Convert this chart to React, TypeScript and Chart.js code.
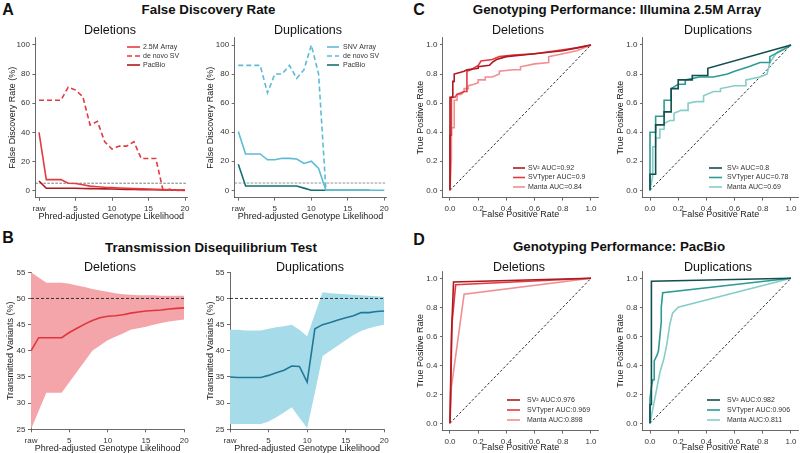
import React, { useEffect, useRef } from 'react';
import { Chart, registerables } from 'chart.js';

Chart.register(...registerables);

const FONT = "'Liberation Sans', Arial, Helvetica, sans-serif";
Chart.defaults.font.family = FONT;
Chart.defaults.color = '#333';

// ---------- shared axis data ----------
const gq = [0, 1, 2, 3, 4, 5, 6, 7, 8, 9, 10, 11, 12, 13, 14, 15, 16, 17, 18, 19, 20];
const gqTickValues = [0, 5, 10, 15, 20];
const gqTickLabels = ['raw', '5', '10', '15', '20'];
const fdrTicks = [0, 20, 40, 60, 80, 100];
const tdtTicks = [25, 30, 35, 40, 45, 50, 55];
const rocTicks = [0, 0.2, 0.4, 0.6, 0.8, 1.0];
const FDR_THRESHOLD = 5;
const TDT_EXPECTED = 50;

// ---------- A: False discovery rate ----------
const aDelArray = [40, 7.5, 7.5, 7.5, 5, 4.8, 4, 3, 2.6, 2.2, 2, 1.7, 1.5, 1.3, 1.1, 1, 0.8, 0.6, 0.5, 0.3, 0.2];
const aDelDenovo = [62, 62, 62, 62, 71, 69, 64.5, 45, 47.5, 33.5, 28.5, 30.5, 30.5, 33.5, 22, 22, 22, 0, 1, 0, 0.5];
const aDelPacbio = [6.5, 1.5, 1.5, 1.5, 1.5, 1.5, 1.4, 1.3, 1.2, 1.1, 1, 0.9, 0.8, 0.7, 0.6, 0.5, 0.5, 0.4, 0.3, 0.2, 0.1];

const aDupArray = [40.5, 25, 25, 25, 21, 21, 22, 22, 21.5, 18.5, 20, 15, 0, 0, 0, 0, 0, 0, 0, 0, 0];
const aDupDenovo = [86, 86, 86, 86, 67, 80, 80, 86, 77, 83, 100, 80, 0];
const aDupPacbio = [18, 3, 3, 3, 3, 3, 3, 3, 3, 1.5, 0, 0, 0, 0, 0, 0, 0, 0, 0];

// ---------- B: Transmission disequilibrium test ----------
const bDelMean = [40, 42.5, 42.5, 42.5, 42.5, 43.5, 44.3, 45.1, 45.8, 46.3, 46.6, 46.7, 46.9, 47.2, 47.4, 47.6, 47.7, 47.8, 48.0, 48.1, 48.2];
const bDelUpper = [55, 54, 53, 53, 53, 52.8, 52.5, 52.2, 51.8, 51.5, 51.3, 51, 50.8, 50.7, 50.6, 50.6, 50.6, 50.5, 50.5, 50.5, 50.5];
const bDelLower = [25, 28.5, 32, 32, 32, 34, 36, 38, 40, 41, 42, 42.7, 43.3, 44, 44.3, 44.6, 45, 45.3, 45.6, 45.8, 46];

const bDupMean = [35, 34.9, 34.9, 34.9, 34.9, 35.3, 35.8, 36.3, 37.1, 37, 34, 44.2, 45, 45.4, 45.9, 46.3, 46.7, 47.3, 47.3, 47.5, 47.6];
const bDupUpper = [44, 44, 43.9, 43.9, 43.9, 44.2, 44.5, 44.7, 45, 44, 42.8, 47, 51.2, 51, 50.9, 50.8, 50.7, 50.6, 50.5, 50.4, 50.3];
const bDupLower = [26, 26, 26, 26, 26, 26.5, 27.3, 28.2, 29.2, 27.2, 25.2, 32, 39, 40, 41, 42, 43, 43.8, 44.3, 44.7, 45];

// ---------- C: Genotyping performance, Illumina 2.5M array ----------
const cDelSv2Fpr = [0, 0, 0.02, 0.02, 0.03, 0.03, 0.07, 0.1, 0.12, 0.2, 0.2, 0.28, 0.3, 0.33, 0.4, 0.5, 0.6, 0.7, 0.8, 0.9, 1];
const cDelSv2Tpr = [0, 0.64, 0.64, 0.75, 0.75, 0.8, 0.81, 0.82, 0.83, 0.84, 0.85, 0.86, 0.88, 0.9, 0.92, 0.93, 0.94, 0.95, 0.96, 0.98, 1];
const cDelSvtFpr = [0, 0, 0.01, 0.01, 0.035, 0.05, 0.1, 0.12, 0.12, 0.15, 0.2, 0.22, 0.3, 0.35, 0.45, 0.6, 0.75, 0.9, 1];
const cDelSvtTpr = [0, 0.38, 0.38, 0.64, 0.64, 0.66, 0.68, 0.68, 0.82, 0.83, 0.86, 0.89, 0.9, 0.92, 0.93, 0.94, 0.96, 0.98, 1];
const cDelMantaFpr = [0, 0.01, 0.01, 0.03, 0.03, 0.05, 0.05, 0.08, 0.1, 0.1, 0.13, 0.13, 0.17, 0.2, 0.2, 0.25, 0.25, 0.3, 0.35, 0.35, 0.45, 0.5, 0.5, 0.6, 0.7, 0.7, 0.8, 0.9, 1];
const cDelMantaTpr = [0, 0.22, 0.43, 0.43, 0.62, 0.62, 0.66, 0.66, 0.68, 0.7, 0.7, 0.72, 0.73, 0.74, 0.76, 0.76, 0.78, 0.78, 0.8, 0.82, 0.83, 0.83, 0.85, 0.87, 0.88, 0.92, 0.94, 0.96, 1];

const cDupSv2Fpr = [0, 0, 0.04, 0.04, 0.1, 0.1, 0.15, 0.15, 0.2, 0.2, 0.3, 0.3, 0.41, 0.41, 1];
const cDupSv2Tpr = [0, 0.11, 0.11, 0.45, 0.45, 0.54, 0.54, 0.7, 0.7, 0.76, 0.76, 0.79, 0.79, 0.84, 1];
const cDupSvtFpr = [0, 0, 0.04, 0.04, 0.1, 0.1, 0.15, 0.15, 0.2, 0.25, 0.25, 0.35, 0.45, 0.55, 0.6, 0.7, 0.78, 0.85, 0.85, 0.95, 1];
const cDupSvtTpr = [0, 0.4, 0.4, 0.51, 0.51, 0.62, 0.62, 0.7, 0.73, 0.73, 0.76, 0.78, 0.78, 0.8, 0.82, 0.85, 0.88, 0.88, 0.92, 0.97, 1];
const cDupMantaFpr = [0, 0.02, 0.02, 0.04, 0.04, 0.07, 0.07, 0.1, 0.1, 0.14, 0.17, 0.17, 0.22, 0.27, 0.27, 0.33, 0.38, 0.38, 0.45, 0.5, 0.5, 0.6, 0.68, 0.68, 0.78, 0.83, 0.85, 0.9, 1];
const cDupMantaTpr = [0, 0.1, 0.3, 0.3, 0.36, 0.36, 0.42, 0.42, 0.46, 0.48, 0.48, 0.53, 0.55, 0.55, 0.6, 0.61, 0.61, 0.65, 0.68, 0.68, 0.7, 0.72, 0.72, 0.76, 0.78, 0.8, 0.88, 0.95, 1];

// ---------- D: Genotyping performance, PacBio ----------
const dDelSv2Fpr = [0, 0.01, 0.025, 1];
const dDelSv2Tpr = [0, 0.6, 0.975, 1];
const dDelSvtFpr = [0, 0.015, 0.04, 1];
const dDelSvtTpr = [0, 0.7, 0.955, 1];
const dDelMantaFpr = [0, 0.01, 0.1, 1];
const dDelMantaTpr = [0, 0.25, 0.89, 1];

const dDupSv2Fpr = [0, 0, 0.01, 0.01, 1];
const dDupSv2Tpr = [0, 0.13, 0.13, 0.98, 1];
const dDupSvtFpr = [0, 0, 0.01, 0.02, 0.03, 0.03, 0.05, 0.06, 0.07, 0.08, 0.08, 0.09, 1];
const dDupSvtTpr = [0, 0.17, 0.25, 0.3, 0.3, 0.43, 0.47, 0.5, 0.6, 0.7, 0.8, 0.9, 1];
const dDupMantaFpr = [0, 0.02, 0.05, 0.07, 0.1, 0.12, 0.14, 0.16, 0.2, 1];
const dDupMantaTpr = [0, 0.1, 0.25, 0.35, 0.45, 0.55, 0.68, 0.76, 0.8, 1];

// ---------- styles ----------
const RED = '#e23a3f';
const DARK_RED = '#ad1a20';
const PINK = '#f28d92';
const LIGHT_BLUE = '#5dbbd6';
const DARK_TEAL = '#157170';
const ROC_DUP_DARK = '#134f4d';
const ROC_DUP_MID = '#2c9b96';
const ROC_DUP_LIGHT = '#86cdc8';
const DEL_FILL = '#f4a5a9';
const DEL_LINE = '#e0353d';
const DUP_FILL = '#a6dbea';
const DUP_LINE = '#217896';
const AXC = '#444';

const AXIS_TITLE = 9;
const TICK = 8;
const LEGEND = 7;
const LH = AXIS_TITLE * 1.2;

const gqPts = (ys: number[]) => ys.map((y, i) => ({ x: gq[i], y }));
const rocPts = (xs: number[], ys: number[]) => xs.map((x, i) => ({ x, y: ys[i] }));

function line(label: string, data: any[], color: string, extra: any = {}) {
  return {
    label, data, borderColor: color, backgroundColor: color, borderWidth: 1.6,
    pointRadius: 0, tension: 0, fill: false, order: 0, ...extra,
  };
}

const legendPlugin = {
  id: 'inlineLegend',
  afterDatasetsDraw(chart: any, _args: any, opts: any) {
    if (!opts || opts.x === undefined) return;
    const ctx = chart.ctx;
    const items = chart.data.datasets.filter((d: any) => d.label);
    items.forEach((d: any, i: number) => {
      const y = opts.y + i * opts.dy;
      ctx.save();
      ctx.strokeStyle = d.borderColor;
      ctx.lineWidth = d.borderWidth;
      ctx.setLineDash(d.borderDash || []);
      ctx.beginPath();
      ctx.moveTo(opts.x, y);
      ctx.lineTo(opts.x + opts.len, y);
      ctx.stroke();
      ctx.setLineDash([]);
      ctx.fillStyle = '#333';
      ctx.font = `${LEGEND}px ${FONT}`;
      ctx.textBaseline = 'middle';
      ctx.textAlign = 'left';
      ctx.fillText(d.label, opts.x + opts.len + opts.gap, y);
      ctx.restore();
    });
  },
};

function geom(spec: any) {
  const [xv1, xp1, xv2, xp2] = spec.xCal;
  const kx = (xp2 - xp1) / (xv2 - xv1);
  const L = xp1 + (spec.xLim[0] - xv1) * kx;
  const R = xp1 + (spec.xLim[1] - xv1) * kx;
  const [yv1, yp1, yv2, yp2] = spec.yCal;
  const ky = (yp2 - yp1) / (yv2 - yv1);
  const T = yp1 + (spec.yLim[1] - yv1) * ky;
  const B = yp1 + (spec.yLim[0] - yv1) * ky;
  const cl = Math.round(spec.yTitleX - LH / 2);
  const ct = Math.floor(T - 8);
  const cw = Math.ceil(R + 12 - cl);
  const ch = Math.round(spec.xTitleY + LH / 2 - ct);
  return { cl, ct, cw, ch, wy: L - cl, hx: ct + ch - B, pt: T - ct, pr: cl + cw - R };
}

function axis(kind: 'x' | 'y', spec: any, g: any) {
  const isX = kind === 'x';
  const lim = isX ? spec.xLim : spec.yLim;
  const ticks = isX ? spec.xTicks : spec.yTicks;
  const fmt = isX ? spec.xFmt : spec.yFmt;
  return {
    type: 'linear',
    min: lim[0],
    max: lim[1],
    afterBuildTicks: (s: any) => { s.ticks = ticks.map((v: number) => ({ value: v })); },
    afterFit: (s: any) => { if (isX) s.height = g.hx; else s.width = g.wy; },
    ticks: {
      callback: (v: number) => fmt(v),
      font: { size: TICK }, color: '#333', padding: isX ? 3.5 : 2.5,
      maxRotation: 0, autoSkip: false,
    },
    grid: { display: true, drawOnChartArea: false, drawTicks: true, tickLength: 3, color: AXC, lineWidth: 0.8 },
    border: { display: true, color: AXC, width: 0.8 },
    title: { display: true, text: isX ? spec.xTitle : spec.yTitle, font: { size: AXIS_TITLE }, color: '#222', padding: 0 },
  };
}

const gqFmt = (v: number) => gqTickLabels[gqTickValues.indexOf(v)] ?? '';
const intFmt = (v: number) => String(v);
const rocFmt = (v: number) => v.toFixed(1);

const GQ_X = 'Phred-adjusted Genotype Likelihood';
const FDR_Y = 'False Discovery Rate (%)';
const TDT_Y = 'Transmitted Variants (%)';
const ROC_X = 'False Positive Rate';
const ROC_Y = 'True Positive Rate';

const fdrBase = { xLim: [-0.5, 20.3], yLim: [-5, 105], xTicks: gqTickValues, yTicks: fdrTicks, xFmt: gqFmt, yFmt: intFmt, xTitle: GQ_X, yTitle: FDR_Y };
const tdtBase = { xLim: [0, 20], yLim: [25, 55], xTicks: gqTickValues, yTicks: tdtTicks, xFmt: gqFmt, yFmt: intFmt, xTitle: GQ_X, yTitle: TDT_Y };
const rocBase = { xLim: [-0.05, 1.05], yLim: [-0.05, 1.05], xTicks: rocTicks, yTicks: rocTicks, xFmt: rocFmt, yFmt: rocFmt, xTitle: ROC_X, yTitle: ROC_Y };

const thresholdLine = (lim: number[], y: number, color: string, dash: number[], w: number, order = 10) =>
  line('', [{ x: lim[0], y }, { x: lim[1], y }], color, { borderDash: dash, borderWidth: w, order });
const diagonal = () => line('', [{ x: 0, y: 0 }, { x: 1, y: 1 }], '#111', { borderDash: [2.5, 2], borderWidth: 0.9, order: 10 });

const bandSets = (upper: number[], lower: number[], mean: number[], fill: string, stroke: string) => [
  line('', gqPts(upper), fill, { borderWidth: 0, fill: '+1', backgroundColor: fill, order: 5 }),
  line('', gqPts(lower), fill, { borderWidth: 0, order: 5 }),
  thresholdLine([0, 20], TDT_EXPECTED, '#333', [3, 2], 1, 1),
  line('', gqPts(mean), stroke, { borderWidth: 1.6, order: 0 }),
];

const panels: any[] = [
  {
    ...fdrBase, xCal: [0, 39, 20, 185], yCal: [0, 190.5, 100, 45], yTitleX: 12, xTitleY: 217,
    legend: { x: 127, y: 47, dy: 9, len: 13, gap: 3 },
    datasets: [
      line('2.5M Array', gqPts(aDelArray), RED),
      line('de novo SV', gqPts(aDelDenovo), RED, { borderDash: [5, 3] }),
      line('PacBio', gqPts(aDelPacbio), DARK_RED),
      thresholdLine(fdrBase.xLim, FDR_THRESHOLD, '#555', [2.5, 1.5], 0.8),
    ],
  },
  {
    ...fdrBase, xCal: [0, 238.3, 20, 384.3], yCal: [0, 190.3, 100, 45], yTitleX: 210.7, xTitleY: 216.5,
    legend: { x: 327, y: 47, dy: 9, len: 12, gap: 4 },
    datasets: [
      line('SNV Array', gqPts(aDupArray), LIGHT_BLUE),
      line('de novo SV', gqPts(aDupDenovo), LIGHT_BLUE, { borderDash: [5, 3] }),
      line('PacBio', gqPts(aDupPacbio), DARK_TEAL),
      thresholdLine(fdrBase.xLim, FDR_THRESHOLD, '#777', [2.5, 1.5], 0.8),
    ],
  },
  {
    ...tdtBase, xCal: [0, 31, 20, 184.3], yCal: [25, 429.3, 55, 272.3], yTitleX: 10, xTitleY: 449,
    datasets: bandSets(bDelUpper, bDelLower, bDelMean, DEL_FILL, DEL_LINE),
  },
  {
    ...tdtBase, xCal: [0, 230, 20, 384.3], yCal: [25, 429.3, 55, 272.3], yTitleX: 210, xTitleY: 449,
    datasets: bandSets(bDupUpper, bDupLower, bDupMean, DUP_FILL, DUP_LINE),
  },
  {
    ...rocBase, xCal: [0, 450, 1, 591], yCal: [0, 190.3, 1, 45], yTitleX: 420.7, xTitleY: 215,
    legend: { x: 513, y: 168, dy: 9.5, len: 12, gap: 3 },
    datasets: [
      line('SV\u00b2 AUC=0.92', rocPts(cDelSv2Fpr, cDelSv2Tpr), DARK_RED, { order: 0 }),
      line('SVTyper AUC=0.9', rocPts(cDelSvtFpr, cDelSvtTpr), RED, { order: 1 }),
      line('Manta AUC=0.84', rocPts(cDelMantaFpr, cDelMantaTpr), PINK, { order: 2 }),
      diagonal(),
    ],
  },
  {
    ...rocBase, xCal: [0, 650, 1, 791], yCal: [0, 190.3, 1, 45], yTitleX: 620.7, xTitleY: 215,
    legend: { x: 709, y: 168, dy: 9.5, len: 13, gap: 5 },
    datasets: [
      line('SV\u00b2 AUC=0.8', rocPts(cDupSv2Fpr, cDupSv2Tpr), ROC_DUP_DARK, { order: 0 }),
      line('SVTyper AUC=0.78', rocPts(cDupSvtFpr, cDupSvtTpr), ROC_DUP_MID, { order: 1 }),
      line('Manta AUC=0.69', rocPts(cDupMantaFpr, cDupMantaTpr), ROC_DUP_LIGHT, { order: 2 }),
      diagonal(),
    ],
  },
  {
    ...rocBase, xCal: [0, 450, 1, 591], yCal: [0, 423.3, 1, 278.3], yTitleX: 420.7, xTitleY: 448,
    legend: { x: 507, y: 400, dy: 10, len: 13, gap: 7 },
    datasets: [
      line('SV\u00b2 AUC:0.976', rocPts(dDelSv2Fpr, dDelSv2Tpr), DARK_RED, { order: 0 }),
      line('SVTyper AUC:0.969', rocPts(dDelSvtFpr, dDelSvtTpr), RED, { order: 1 }),
      line('Manta AUC:0.898', rocPts(dDelMantaFpr, dDelMantaTpr), PINK, { order: 2 }),
      diagonal(),
    ],
  },
  {
    ...rocBase, xCal: [0, 650, 1, 791], yCal: [0, 423.3, 1, 278.3], yTitleX: 620.7, xTitleY: 448,
    legend: { x: 707, y: 400, dy: 10, len: 13, gap: 7 },
    datasets: [
      line('SV\u00b2 AUC:0.982', rocPts(dDupSv2Fpr, dDupSv2Tpr), ROC_DUP_DARK, { order: 0 }),
      line('SVTyper AUC:0.906', rocPts(dDupSvtFpr, dDupSvtTpr), ROC_DUP_MID, { order: 1 }),
      line('Manta AUC:0.811', rocPts(dDupMantaFpr, dDupMantaTpr), ROC_DUP_LIGHT, { order: 2 }),
      diagonal(),
    ],
  },
];

const texts: { t: string; x: number; y: number; size: number; bold?: boolean }[] = [
  { t: 'A', x: 8, y: 10, size: 16, bold: true },
  { t: 'B', x: 8, y: 238, size: 16, bold: true },
  { t: 'C', x: 419, y: 10, size: 16, bold: true },
  { t: 'D', x: 419, y: 240, size: 16, bold: true },
  { t: 'False Discovery Rate', x: 208.5, y: 10, size: 13.3, bold: true },
  { t: 'Transmission Disequilibrium Test', x: 211, y: 248, size: 13.3, bold: true },
  { t: 'Genotyping Performance: Illumina 2.5M Array', x: 617, y: 10, size: 13.3, bold: true },
  { t: 'Genotyping Performance: PacBio', x: 619, y: 247, size: 13.3, bold: true },
  { t: 'Deletions', x: 110, y: 30, size: 12.5 },
  { t: 'Duplications', x: 308, y: 30, size: 12.5 },
  { t: 'Deletions', x: 110, y: 266.7, size: 12.5 },
  { t: 'Duplications', x: 310, y: 266.7, size: 12.5 },
  { t: 'Deletions', x: 518, y: 30, size: 12.5 },
  { t: 'Duplications', x: 718, y: 30, size: 12.5 },
  { t: 'Deletions', x: 519, y: 266.7, size: 12.5 },
  { t: 'Duplications', x: 718, y: 266.7, size: 12.5 },
];

function Panel({ spec }: { spec: any }) {
  const ref = useRef<HTMLCanvasElement>(null);
  const g = geom(spec);
  useEffect(() => {
    if (!ref.current) return;
    const lg = spec.legend
      ? { x: spec.legend.x - g.cl, y: spec.legend.y - g.ct, dy: spec.legend.dy, len: spec.legend.len, gap: spec.legend.gap }
      : {};
    const chart = new Chart(ref.current, {
      type: 'line',
      data: { datasets: spec.datasets },
      plugins: [legendPlugin],
      options: {
        responsive: false,
        animation: false,
        devicePixelRatio: 1,
        layout: { padding: { left: 0, top: g.pt, right: g.pr, bottom: 0 } },
        plugins: {
          legend: { display: false },
          tooltip: { enabled: false },
          inlineLegend: lg,
        } as any,
        scales: { x: axis('x', spec, g), y: axis('y', spec, g) } as any,
      },
    } as any);
    return () => chart.destroy();
  }, []);
  return (
    <canvas
      ref={ref}
      width={g.cw}
      height={g.ch}
      style={{ position: 'absolute', left: g.cl, top: g.ct, width: g.cw, height: g.ch }}
    />
  );
}

export default function App() {
  return (
    <div style={{ position: 'absolute', left: 0, top: 0, width: 800, height: 453, overflow: 'hidden', background: '#fff', fontFamily: FONT }}>
      {panels.map((p, i) => <Panel key={i} spec={p} />)}
      {texts.map((t, i) => (
        <div
          key={'t' + i}
          style={{
            position: 'absolute', left: t.x, top: t.y, transform: 'translate(-50%, -50%)',
            fontSize: t.size, lineHeight: 1, fontWeight: t.bold ? 700 : 400, color: '#111', whiteSpace: 'nowrap',
          }}
        >
          {t.t}
        </div>
      ))}
    </div>
  );
}
